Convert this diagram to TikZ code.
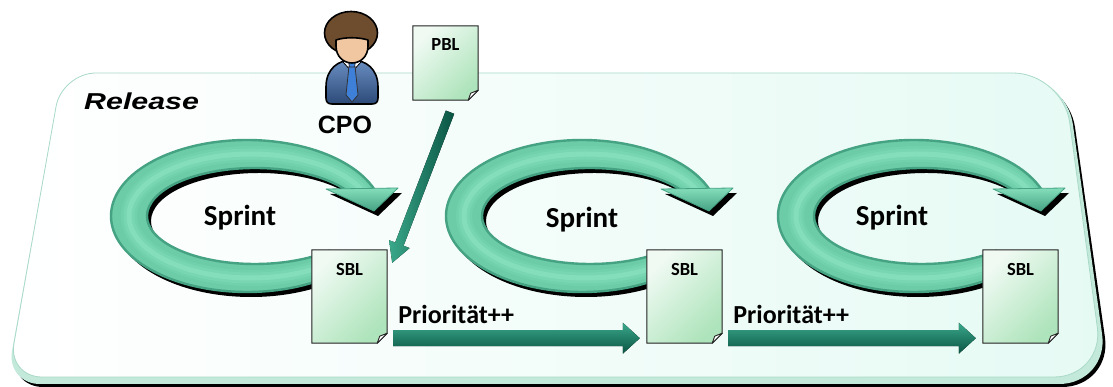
\documentclass[tikz,border=0pt]{standalone}
\usepackage{graphicx}
\usepackage{fontspec}
\setmainfont{Carlito}
\newfontfamily\relfont{Liberation Sans}
\usetikzlibrary{calc}

\definecolor{ringedge}{HTML}{45A282}
\definecolor{ringbody}{HTML}{6BCCA7}
\definecolor{ringlite}{HTML}{78D6B2}
\definecolor{ringhigh}{HTML}{84DEBC}
\definecolor{docA}{HTML}{F0FAF3}
\definecolor{docB}{HTML}{AEE4BB}
\definecolor{tealtop}{HTML}{3AA88A}
\definecolor{tealmid}{HTML}{177A62}
\definecolor{tealbot}{HTML}{0A5443}
\definecolor{slabface}{HTML}{E6FAF4}
\definecolor{slabedge}{HTML}{C2E9D9}
\definecolor{slabline}{HTML}{A9D9C8}
\definecolor{hair}{HTML}{6E4C2E}
\definecolor{skin}{HTML}{F1C7A2}
\definecolor{suitA}{HTML}{6A8EC2}
\definecolor{suitB}{HTML}{2C4A78}
\definecolor{tiecol}{HTML}{3E7FD8}

% rounded slab outline: #1 options, #2 top-left x, #3 top-right x,
% #4 bottom-right x, #5 bottom-left x, #6 top y, #7 bottom y
\newcommand\slab[7]{%
  \path[#1] (500,#6) [rounded corners=50] -- (#3,#6) -- (#4,#7)
    [rounded corners=34] -- (#5,#7) -- (#2,#6) [rounded corners=50] -- cycle;}

% paper sheet with a dog-ear drawn over the frame of node #1
\newcommand\docsheet[1]{%
  \fill[black!40, shift={(2.5,-2.5)}] (#1.north west) -- (#1.north east)
    -- ($(#1.south east)+(0,10)$) -- ($(#1.south east)+(-10,0)$) -- (#1.south west) -- cycle;
  \shadedraw[top color=docA, bottom color=docB, shading angle=45, draw=black!85, line width=1]
    (#1.north west) -- (#1.north east) -- ($(#1.south east)+(0,10)$)
    -- ($(#1.south east)+(-10,0)$) -- (#1.south west) -- cycle;
  \filldraw[fill=white, draw=black!85, line width=0.9, line join=round]
    ($(#1.south east)+(0,10)$) -- ($(#1.south east)+(-7.5,7)$) -- ($(#1.south east)+(-10,0)$) -- cycle;}

% block arrow from #1 to #2: shaft half width #3, head half width #4, head length #5, shading #6
\newcommand\tealarrow[6]{%
  \coordinate (#1-hb) at ($(#2)!#5pt!(#1)$);
  \fill[black, shift={(2,-2.5)}]
    ($(#1)!#3pt!90:(#2)$) -- ($(#1-hb)!#3pt!90:(#2)$) -- ($(#1-hb)!#4pt!90:(#2)$) -- (#2)
    -- ($(#1-hb)!#4pt!-90:(#2)$) -- ($(#1-hb)!#3pt!-90:(#2)$) -- ($(#1)!#3pt!-90:(#2)$) -- cycle;
  \shade[#6]
    ($(#1)!#3pt!90:(#2)$) -- ($(#1-hb)!#3pt!90:(#2)$) -- ($(#1-hb)!#4pt!90:(#2)$) -- (#2)
    -- ($(#1-hb)!#4pt!-90:(#2)$) -- ($(#1-hb)!#3pt!-90:(#2)$) -- ($(#1)!#3pt!-90:(#2)$) -- cycle;}

% ring band: outer and inner ellipse arcs, thinner towards the head
\newcommand\ringband[1]{%
  \path[#1] ($(247,171)+(-50:136 and 76)$)
    arc[start angle=-50, end angle=-344, x radius=136, y radius=76]
    -- ($(255,171)+(28:108 and 48)$)
    arc[start angle=28, end angle=313, x radius=108, y radius=48] -- cycle;}
% highlight stroke along the middle of the band
\newcommand\ringshine[1]{%
  \draw[#1] ($(251,171)+(-50:122 and 62)$)
    arc[start angle=-50, end angle=-338, x radius=122, y radius=62];}

% circular sprint arrow, shifted right by #1
\newcommand\sprintring[1]{%
  \begin{scope}[shift={(#1,0)}]
    \ringband{fill=black, shift={(4,-5)}}
    \fill[black, shift={(4,-5)}] (326,198) -- (398,199) -- (374,176) -- cycle;
    \ringband{fill=ringbody, draw=ringedge, line width=2.4}
    \ringshine{ringbody!50!ringlite, line width=16}
    \ringshine{ringlite, line width=11}
    \ringshine{ringhigh, line width=5}
    \shadedraw[top color=ringhigh, bottom color=ringedge, draw=ringedge, line width=0.8,
      line join=round] (326,198) -- (398,199) -- (374,176) -- cycle;
  \end{scope}}

\tikzset{
  docbox/.style={minimum width=75pt, minimum height=93pt, inner sep=0pt, draw=none},
  pblbox/.style={minimum width=65pt, minimum height=74pt, inner sep=0pt, draw=none},
  doclabel/.style={font=\bfseries\fontsize{18.5}{20}\selectfont, inner sep=0pt},
  sprinttext/.style={font=\bfseries\fontsize{29}{32}\selectfont, inner sep=0pt},
  priotext/.style={font=\bfseries\fontsize{26}{28}\selectfont, inner sep=0pt, anchor=base west},
  outline/.style={draw=black, line width=1.6, line join=round},
}

\begin{document}
\begin{tikzpicture}[x=1pt, y=1pt]
  \useasboundingbox (0,0) rectangle (1113,387);

  % release slab: shadow, bevel, face
  \slab{fill=black}{64}{1068}{1112}{9}{309}{0}
  \slab{fill=slabedge}{62}{1066}{1109}{6}{312}{3}
  \slab{left color=white, right color=slabface, draw=slabline, line width=0.8}{62}{1063}{1104}{8}{314}{10}
  \node[anchor=west, inner sep=0pt, font=\relfont\bfseries\itshape\fontsize{23}{26}\selectfont]
    (rel) at (84,286) {\scalebox{1.32}[1]{Release}};

  % sprint cycles
  \sprintring{0}
  \sprintring{335}
  \sprintring{667}
  \node[sprinttext] (sp1) at (240,169) {Sprint};
  \node[sprinttext] (sp2) at (582,167) {Sprint};
  \node[sprinttext] (sp3) at (892,169) {Sprint};

  % backlogs
  \node[docbox] (sbl1) at (349.5,90.5) {};
  \node[docbox] (sbl2) at (684.5,90.5) {};
  \node[docbox] (sbl3) at (1020.5,90.5) {};
  \node[pblbox] (pbl) at (445.5,324) {};
  \docsheet{sbl1}
  \docsheet{sbl2}
  \docsheet{sbl3}
  \docsheet{pbl}
  \node[doclabel] (sbl1t) at ($(sbl1.north)+(0,-20)$) {SBL};
  \node[doclabel] (sbl2t) at ($(sbl2.north)+(0,-20)$) {SBL};
  \node[doclabel] (sbl3t) at ($(sbl3.north)+(0,-20)$) {SBL};
  \node[doclabel] (pblt) at ($(pbl.north)+(0,-19)$) {PBL};

  % flow arrows
  \coordinate (ps) at ($(pbl.south)+(4.5,-12)$);
  \coordinate (pe) at ($(sbl1.north east)+(5,-13)$);
  \tealarrow{ps}{pe}{4.5}{11}{20}{left color=tealtop, right color=tealbot}
  \coordinate (a1s) at ($(sbl1.south east)+(6,5)$);
  \coordinate (a1e) at ($(sbl2.south west)+(-7,5)$);
  \coordinate (a2s) at ($(sbl2.south east)+(6,5)$);
  \coordinate (a2e) at ($(sbl3.south west)+(-7,5)$);
  \tealarrow{a1s}{a1e}{8}{15.5}{17}{top color=tealtop, middle color=tealmid, bottom color=tealbot}
  \tealarrow{a2s}{a2e}{8}{15.5}{17}{top color=tealtop, middle color=tealmid, bottom color=tealbot}
  \node[priotext] (pr1) at ($(a1s)+(5,15)$) {Priorität++};
  \node[priotext] (pr2) at ($(a2s)+(5,15)$) {Priorität++};

  % chief product owner figure
  \coordinate (cpoicon) at (352,330);
  \shadedraw[outline, top color=suitA, bottom color=suitB]
    (326,289) -- (326,300) .. controls (326,318) and (338,327) .. (352,327)
    .. controls (366,327) and (378,318) .. (378,300) -- (378,289)
    .. controls (378,285) and (376,283) .. (372,283) -- (332,283)
    .. controls (328,283) and (326,285) .. (326,289) -- cycle;
  \filldraw[fill=white, draw=black, line width=0.8, line join=round]
    (343,325) -- (352,315) -- (361,325) -- (356,328) -- (348,328) -- cycle;
  \filldraw[fill=tiecol, draw=black!80, line width=0.8, line join=round]
    (349,321) -- (355,321) -- (358,292) -- (352,285) -- (346,292) -- cycle;
  \filldraw[fill=tiecol, draw=black!80, line width=0.8]
    (348.5,326) -- (355.5,326) -- (354.5,320) -- (349.5,320) -- cycle;
  \filldraw[outline, fill=hair] (351,354) ellipse[x radius=26.5, y radius=21.5];
  \filldraw[outline, fill=skin]
    (336,347) .. controls (345,350) and (358,350) .. (368,347) -- (368,341)
    .. controls (368,330) and (360,324) .. (352,324)
    .. controls (344,324) and (336,330) .. (336,341) -- cycle;
  \node[inner sep=0pt, font=\relfont\bfseries\fontsize{25}{28}\selectfont] (cpo) at (345,262) {CPO};
\end{tikzpicture}
\end{document}
